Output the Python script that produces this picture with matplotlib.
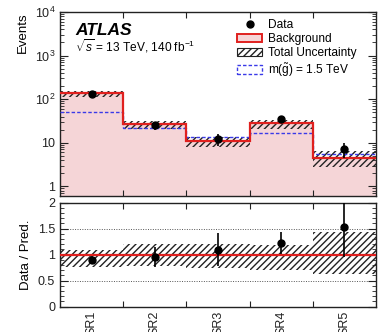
import numpy as np
import matplotlib
matplotlib.use("Agg")
import matplotlib.pyplot as plt
from matplotlib.patches import Patch
from matplotlib.lines import Line2D
from matplotlib.ticker import FixedLocator, FixedFormatter, MultipleLocator

plt.rcParams['font.family'] = ['Liberation Sans', 'DejaVu Sans']
plt.rcParams['mathtext.fontset'] = 'custom'
plt.rcParams['mathtext.rm'] = 'Liberation Sans'
plt.rcParams['mathtext.it'] = 'Liberation Sans:italic'
plt.rcParams['mathtext.bf'] = 'Liberation Sans:bold'

# Signal regions and yields
regions = ["SR1", "SR2", "SR3", "SR4", "SR5"]
observed = np.array([128, 25, 12, 35, 7])
background = np.array([142, 26.3, 11.0, 28.5, 4.55])
signal = np.array([51, 22, 13.8, 17, 5.5])
# Relative total uncertainty on the background (up / down)
unc_up = np.array([0.08, 0.21, 0.20, 0.19, 0.44])
unc_dn = np.array([0.23, 0.21, 0.26, 0.29, 0.38])

edges = np.arange(len(regions) + 1)
centers = edges[:-1] + 0.5

W, H = 381, 332
fig = plt.figure(figsize=(W / 100, H / 100), dpi=100)
left, right = 60 / W, 376 / W
ax = fig.add_axes([left, 1 - 196 / H, right - left, (196 - 12) / H])
rx = fig.add_axes([left, 1 - 306.7 / H, right - left, (306.7 - 202.5) / H])

pink = '#f5d5d7'
red = '#e0201e'
blue = '#3a3ae8'

# Upper panel: yields
ax.stairs(background, edges, baseline=1e-3, fill=True, facecolor=pink,
          edgecolor='none', zorder=1)
ax.stairs(background * (1 + unc_up), edges, baseline=background * (1 - unc_dn),
          fill=True, facecolor='none', edgecolor='#222222', hatch='/////',
          linewidth=0, zorder=2)
ax.stairs(signal, edges, baseline=None, color=blue, linestyle=(0, (2.5, 1.5)),
          linewidth=1.0, zorder=3)
ax.stairs(background, edges, baseline=None, color=red, linewidth=1.6, zorder=4)
ax.errorbar(centers, observed, yerr=np.sqrt(observed), fmt='o', color='black',
            markersize=5, elinewidth=1.2, capsize=0, zorder=5)

ax.set_yscale('log')
ax.set_ylim(0.6, 1e4)
ax.set_xlim(edges[0], edges[-1])
ax.yaxis.set_major_locator(FixedLocator([1, 10, 100, 1000, 10000]))
ax.yaxis.set_major_formatter(FixedFormatter(['1', '10', '$10^2$', '$10^3$', '$10^4$']))
ax.set_ylabel('Events', fontsize=9.5, loc='top')
ax.xaxis.set_major_locator(FixedLocator(edges[1:-1]))
ax.xaxis.set_major_formatter(FixedFormatter([''] * 4))

ax.text(0.05, 0.897, 'ATLAS', transform=ax.transAxes, fontsize=12.5,
        fontweight='bold', fontstyle='italic', va='center', ha='left')
ax.text(0.047, 0.815, r'$\sqrt{s}$ = 13 TeV, 140 fb$^{-1}$', transform=ax.transAxes,
        fontsize=8.6, va='center', ha='left')

handles = [
    Line2D([], [], marker='o', color='black', linestyle='none', markersize=5),
    Patch(facecolor=pink, edgecolor=red, linewidth=1.4),
    Patch(facecolor='white', edgecolor='#222222', hatch='/////', linewidth=0.8),
    Patch(facecolor='white', edgecolor=blue, linestyle=(0, (2.5, 1.5)), linewidth=1.0),
]
labels = ['Data', 'Background', 'Total Uncertainty', r'm($\tilde{\mathrm{g}}$) = 1.5 TeV']
ax.legend(handles, labels, loc='upper left', bbox_to_anchor=(0.553, 0.975),
          frameon=False, fontsize=8.6, handlelength=2.1, handleheight=0.75,
          handletextpad=0.45, labelspacing=0.18, borderaxespad=0, borderpad=0.2)

# Lower panel: data / prediction
rx.stairs(1 + unc_up, edges, baseline=1 - unc_dn, fill=True, facecolor='none',
          edgecolor='#222222', hatch='/////', linewidth=0, zorder=2)
rx.axhline(1.0, color=red, linewidth=1.6, zorder=3)
for yv in (0.5, 1.5):
    rx.axhline(yv, color='#555555', linestyle=(0, (1, 1.5)), linewidth=0.7, zorder=1)
ratio = observed / background
ratio_err = np.sqrt(observed) / background
rx.errorbar(centers, ratio, yerr=ratio_err, fmt='o', color='black',
            markersize=5, elinewidth=1.2, capsize=0, zorder=5)
rx.set_xlim(edges[0], edges[-1])
rx.set_ylim(0, 2)
rx.yaxis.set_major_locator(FixedLocator([0, 0.5, 1, 1.5, 2]))
rx.yaxis.set_major_formatter(FixedFormatter(['0', '0.5', '1', '1.5', '2']))
rx.yaxis.set_minor_locator(MultipleLocator(0.1))
rx.set_ylabel('Data / Pred.', fontsize=9.5)
rx.xaxis.set_major_locator(FixedLocator(edges[1:-1]))
rx.xaxis.set_major_formatter(FixedFormatter([''] * 4))
rx.xaxis.set_minor_locator(FixedLocator(centers))
rx.xaxis.set_minor_formatter(FixedFormatter(regions))
rx.tick_params(axis='x', which='minor', length=0, rotation=90, labelsize=9, pad=3)

for a in (ax, rx):
    a.tick_params(which='both', direction='in', top=True, right=True,
                  labelsize=9, colors='#222222', labelcolor='#222222')
    a.tick_params(which='major', length=6, width=0.8)
    a.tick_params(which='minor', length=3, width=0.6)
    a.tick_params(axis='x', which='major', length=4)
    for s in a.spines.values():
        s.set_linewidth(1.0)
        s.set_color('#222222')
rx.tick_params(axis='x', which='minor', length=0)

fig.align_ylabels([ax, rx])
fig.savefig('out.png', dpi=100)
